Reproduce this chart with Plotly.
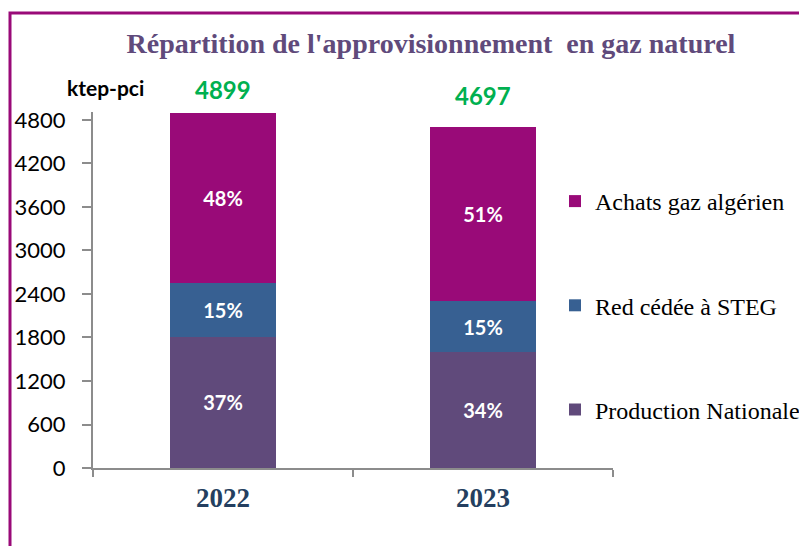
import plotly.graph_objects as go

years = ["2022", "2023"]
production = [1813, 1597]
red_steg = [735, 705]
achats = [2351, 2395]
series_names = ["Production Nationale", "Red cédée à STEG", "Achats gaz algérien"]
colors = ["#604A7B", "#376092", "#990A78"]
y_ticks = [0, 600, 1200, 1800, 2400, 3000, 3600, 4200, 4800]

totals = [p + r + a for p, r, a in zip(production, red_steg, achats)]
total_label_shift = [7, 15]

OFF = 8  # page body margin
W, H = 807, 546
L, R, T, B = 85, 202, 104, 86
pw, ph = W - L - R, H - T - B


def px_x(px):
    return (px - OFF - L) / pw


def px_y(py):
    return (OFF + H - B - py) / ph


fig = go.Figure()
for i, (name, vals) in enumerate(zip(series_names, [production, red_steg, achats])):
    pct = [f"{round(v / t * 100)}%" for v, t in zip(vals, totals)]
    fig.add_trace(go.Bar(
        x=years, y=vals, name=name, marker=dict(color=colors[i], line=dict(width=0)),
        text=pct, textposition="inside", insidetextanchor="middle",
        textfont=dict(family="Lato", size=20, color="white", weight="bold"),
        legendgroup=name, legendrank=len(series_names) - i, width=0.41,
    ))

for i, t in enumerate(totals):
    fig.add_annotation(x=i, y=t, xref="x", yref="y", text=f"<b>{t}</b>", showarrow=False,
                       xanchor="center", yanchor="bottom", yshift=total_label_shift[i],
                       font=dict(family="Lato", size=24, color="#00B050"))

fig.add_annotation(xref="paper", yref="paper", x=px_x(105), y=px_y(87),
                   xanchor="center", yanchor="middle",
                   text="<b>ktep-pci</b>", showarrow=False,
                   font=dict(family="Lato", size=21, color="black"))

fig.add_shape(type="rect", xref="paper", yref="paper",
              x0=px_x(10), x1=px_x(830), y0=px_y(13), y1=px_y(570),
              line=dict(color="#990A78", width=3), layer="above")

fig.update_layout(
    width=W, height=H,
    margin=dict(l=L, r=R, t=T, b=B, autoexpand=False),
    paper_bgcolor="white", plot_bgcolor="white",
    barmode="stack",
    title=dict(text="<b>Répartition de l'approvisionnement  en gaz naturel</b>",
               x=(431 - OFF) / W, xanchor="center", y=1 - (43 - OFF) / H, yanchor="middle",
               font=dict(family="Liberation Serif", size=28, color="#604A7B")),
    legend=dict(x=px_x(555), xanchor="left", y=px_y(179), yanchor="top",
                traceorder="grouped", tracegroupgap=70,
                font=dict(family="Liberation Serif", size=24, color="black"),
                bgcolor="rgba(0,0,0,0)", itemwidth=30),
    xaxis=dict(type="category", range=[-0.5, 1.5], showline=True, linecolor="#8c8c8c", linewidth=2,
               ticks="outside", tickson="boundaries", ticklen=7, tickcolor="#8c8c8c", tickwidth=2,
               ticklabelstandoff=5,
               tickfont=dict(family="Liberation Serif", size=27, color="#243F60", weight="bold"),
               showgrid=False),
    yaxis=dict(range=[0, 4910], tickvals=y_ticks, showline=True, linecolor="#8c8c8c", linewidth=2,
               ticks="outside", ticklen=9, tickcolor="#8c8c8c", tickwidth=2,
               ticklabelstandoff=12, showgrid=False, zeroline=False,
               tickfont=dict(family="Lato", size=22, color="black")),
)

fig.write_html("out.html")
